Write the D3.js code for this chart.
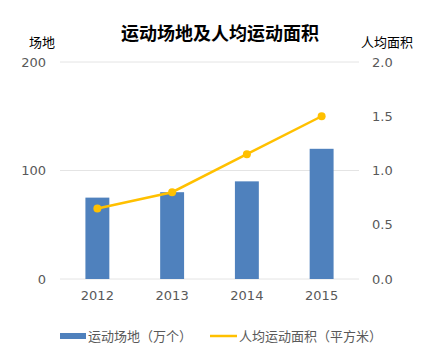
<!DOCTYPE html>
<html>
<head>
<meta charset="utf-8">
<script src="https://cdn.jsdelivr.net/npm/d3@7"></script>
<style>
  body { margin: 0; background: #fff; }
  svg { font-family: "Noto Sans CJK SC", "DejaVu Sans", sans-serif; }
</style>
</head>
<body>
<svg id="chart" width="442" height="353"></svg>
<script>
// Chart data
const years = ['2012', '2013', '2014', '2015'];
const venues = [75, 80, 90, 120];          // 运动场地（万个）
const areaPerCapita = [0.65, 0.8, 1.15, 1.5]; // 人均运动面积（平方米）
const leftTicks = [0, 100, 200];
const rightTicks = [0, 0.5, 1.0, 1.5, 2.0];

const svg = d3.select('#chart');
const margin = {top: 62, right: 83, bottom: 74, left: 60};
const width = 442 - margin.left - margin.right;
const height = 353 - margin.top - margin.bottom;
const tickFont = '"DejaVu Sans", Verdana, sans-serif';

const g = svg.append('g')
    .attr('transform', `translate(${margin.left},${margin.top})`);

// Scales
const x = d3.scaleBand().domain(years).range([0, width]).paddingInner(0.68).paddingOuter(0.34);
const yLeft = d3.scaleLinear().domain([0, 200]).range([height, 0]);
const yRight = d3.scaleLinear().domain([0, 2]).range([height, 0]);

// Gridlines
g.selectAll('.grid')
    .data(leftTicks)
    .enter()
    .append('line')
    .attr('x1', 0)
    .attr('x2', width)
    .attr('y1', d => yLeft(d))
    .attr('y2', d => yLeft(d))
    .attr('stroke', '#e4e4e4')
    .attr('stroke-width', 1);

// Left axis
const leftAxis = g.append('g')
    .call(d3.axisLeft(yLeft).tickValues(leftTicks).tickSize(0).tickPadding(14));
leftAxis.select('.domain').remove();
leftAxis.selectAll('text').style('font-size', '13px').attr('fill', '#595959')
    .style('font-family', tickFont);

// Right axis
const rightAxis = g.append('g')
    .attr('transform', `translate(${width},0)`)
    .call(d3.axisRight(yRight).tickValues(rightTicks).tickFormat(d3.format('.1f')).tickSize(0).tickPadding(13));
rightAxis.select('.domain').remove();
rightAxis.selectAll('text').style('font-size', '13px').attr('fill', '#595959')
    .style('font-family', tickFont);

// Bottom axis
const bottomAxis = g.append('g')
    .attr('transform', `translate(0,${height})`)
    .call(d3.axisBottom(x).tickSize(0).tickPadding(12));
bottomAxis.select('.domain').remove();
bottomAxis.selectAll('text').style('font-size', '13px').attr('fill', '#595959')
    .style('font-family', tickFont);

// Bars
g.selectAll('.bar')
    .data(venues)
    .enter()
    .append('rect')
    .attr('class', 'bar')
    .attr('x', (d, i) => x(years[i]))
    .attr('y', d => yLeft(d))
    .attr('width', x.bandwidth())
    .attr('height', d => height - yLeft(d))
    .attr('fill', '#4f81bd');

// Line
const line = d3.line()
    .x((d, i) => x(years[i]) + x.bandwidth() / 2)
    .y(d => yRight(d));

g.append('path')
    .datum(areaPerCapita)
    .attr('d', line)
    .attr('fill', 'none')
    .attr('stroke', '#ffc000')
    .attr('stroke-width', 2.5);

g.selectAll('.dot')
    .data(areaPerCapita)
    .enter()
    .append('circle')
    .attr('cx', (d, i) => x(years[i]) + x.bandwidth() / 2)
    .attr('cy', d => yRight(d))
    .attr('r', 4)
    .attr('fill', '#ffc000');

// Title and axis titles
svg.append('text')
    .attr('x', 220)
    .attr('y', 40)
    .attr('text-anchor', 'middle')
    .style('font-size', '18px')
    .style('font-weight', 'bold')
    .attr('fill', '#000')
    .text('运动场地及人均运动面积');

svg.append('text')
    .attr('x', 29)
    .attr('y', 47)
    .style('font-size', '13px')
    .attr('fill', '#000')
    .text('场地');

svg.append('text')
    .attr('x', 361)
    .attr('y', 47)
    .style('font-size', '13px')
    .attr('fill', '#000')
    .text('人均面积');

// Legend
const legend = svg.append('g').attr('transform', 'translate(0,336)');
legend.append('rect')
    .attr('x', 60).attr('y', -3).attr('width', 26).attr('height', 6)
    .attr('fill', '#4f81bd');
legend.append('text')
    .attr('x', 88).attr('y', 5)
    .style('font-size', '13px').attr('fill', '#595959')
    .text('运动场地（万个）');
legend.append('line')
    .attr('x1', 210).attr('x2', 237).attr('y1', 0).attr('y2', 0)
    .attr('stroke', '#ffc000').attr('stroke-width', 2.5);
legend.append('text')
    .attr('x', 239).attr('y', 5)
    .style('font-size', '13px').attr('fill', '#595959')
    .text('人均运动面积（平方米）');
</script>
</body>
</html>
